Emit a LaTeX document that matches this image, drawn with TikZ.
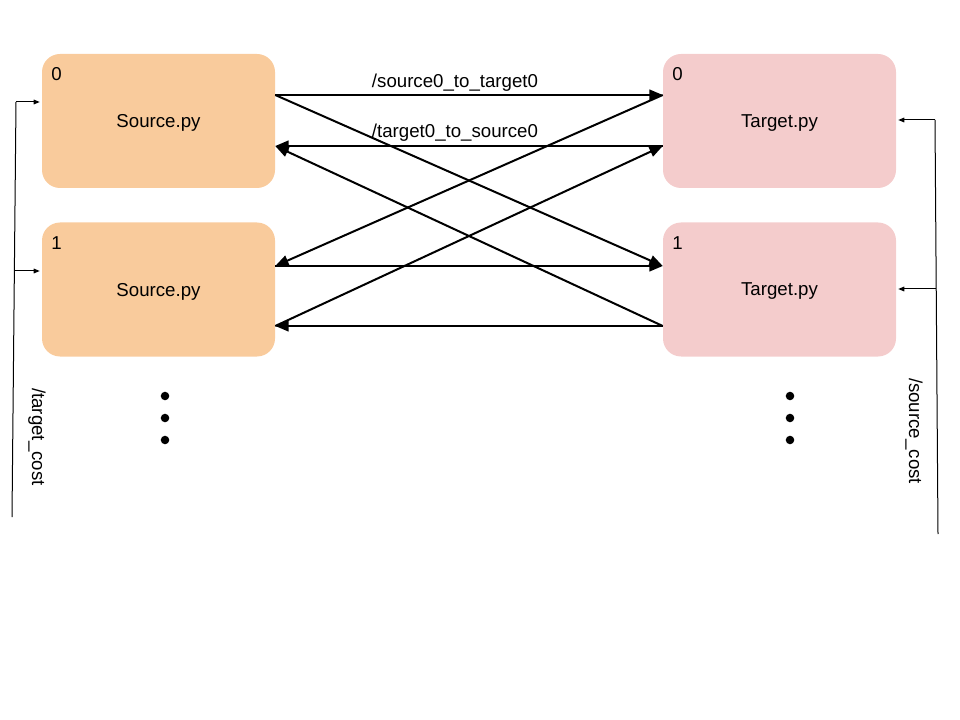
\documentclass[tikz,border=0pt]{standalone}
\usepackage{fontspec}
\setmainfont{Liberation Sans}
\usetikzlibrary{arrows.meta,calc}
\definecolor{srcfill}{HTML}{F9CB9C}
\definecolor{tgtfill}{HTML}{F4CCCC}
\tikzset{
  box/.style={rounded corners=13.5pt, minimum width=174.75pt, minimum height=100.5pt, inner sep=0pt, text depth=0pt, font=\fontsize{14}{16}\selectfont},
  srcbox/.style={box, fill=srcfill},
  tgtbox/.style={box, fill=tgtfill},
  idx/.style={anchor=west, inner sep=0pt, font=\fontsize{14}{16}\selectfont},
  lbl/.style={inner sep=0pt, font=\fontsize{14}{16}\selectfont},
  link/.style={line width=1.5pt, -{Triangle[length=10pt,width=8pt]}},
  feed/.style={line width=0.75pt, -{Triangle[length=4.5pt,width=3.5pt]}},
  dotmark/.style={fill=black}
}
\begin{document}
\begin{tikzpicture}[x=0.75pt,y=-0.75pt]
\useasboundingbox (0,0) rectangle (960,720);

\node[srcbox] (S0) at (158.5,121) {Source.py};
\node[srcbox] (S1) at (158.5,289.5) {Source.py};
\node[tgtbox] (T0) at (779.5,121) {Target.py};
\node[tgtbox] (T1) at (779.5,289.5) {Target.py};

\node[idx] (S0i) at (51,74) {0};
\node[idx] (S1i) at (51,243) {1};
\node[idx] (T0i) at (672,74) {0};
\node[idx] (T1i) at (672,243) {1};

% horizontal links
\draw[link] ([yshift=19.5pt]S0.east) -- ([yshift=19.5pt]T0.west);
\draw[link] ([yshift=-18.75pt]T0.west) -- ([yshift=-18.75pt]S0.east);
\node[lbl] (l1) at (455,83) {/source0\_to\_target0};
\node[lbl] (l2) at (455,133) {/target0\_to\_source0};
\draw[link] ([yshift=17.625pt]S1.east) -- ([yshift=17.625pt]T1.west);
\draw[link] ([yshift=-27.375pt]T1.west) -- ([yshift=-27.375pt]S1.east);

% cross links
\draw[link] ([yshift=19.5pt]S0.east) -- ([yshift=17.625pt]T1.west);
\draw[link] ([yshift=19.5pt]T0.west) -- ([yshift=17.625pt]S1.east);
\draw[link] ([yshift=-27.375pt]S1.east) -- ([yshift=-18.75pt]T0.west);
\draw[link] ([yshift=-27.375pt]T1.west) -- ([yshift=-18.75pt]S0.east);

% left feedback
\coordinate (LT) at (16,102);
\coordinate (LM) at (14.6,271);
\coordinate (LB) at (12,517);
\draw[line width=0.75pt] (LT) -- (LB);
\draw[feed] (LT) -- ([yshift=14.25pt,xshift=-1.5pt]S0.west);
\draw[feed] (LM) -- ([yshift=13.875pt,xshift=-1.5pt]S1.west);
\node[lbl, rotate=-90] (tc) at (37,437) {/target\_cost};

% right feedback
\coordinate (RT) at (935,120);
\coordinate (RM) at (936.2,289);
\coordinate (RB) at (938,534);
\draw[line width=0.75pt] (RT) -- (RB);
\draw[feed] (RT) -- ([xshift=1.5pt,yshift=0.75pt]T0.east);
\draw[feed] (RM) -- ([xshift=1.5pt,yshift=0.375pt]T1.east);
\node[lbl, rotate=-90] (sc) at (914,431) {/source\_cost};

% ellipsis dots
\foreach \yy in {396,418,440} {
  \fill[dotmark] (165,\yy) circle (3.2pt);
  \fill[dotmark] (790,\yy) circle (3.2pt);
}
\end{tikzpicture}
\end{document}
